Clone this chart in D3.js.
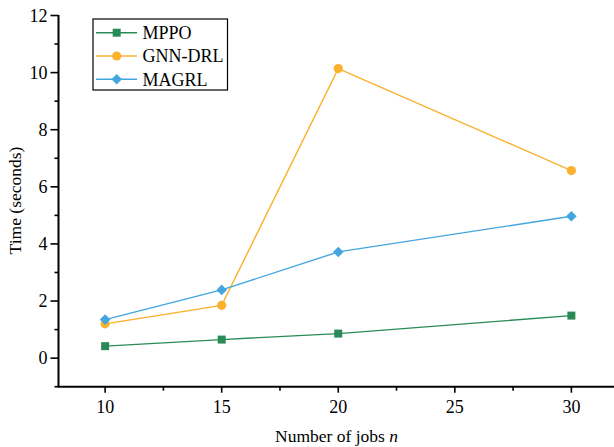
<!DOCTYPE html>
<html>
<head>
<meta charset="utf-8">
<script src="https://cdn.jsdelivr.net/npm/d3@7/dist/d3.min.js"></script>
<style>
  html, body { margin: 0; padding: 0; background: #fff; }
  svg { display: block; }
  text { font-family: "Liberation Serif", "Times New Roman", serif; fill: #000; }
</style>
</head>
<body>
<svg id="chart" width="614" height="447"></svg>
<script>
// Job counts on the x axis
const jobs = [10, 15, 20, 30];

// Solve times (seconds) per method
const mppo   = [0.42, 0.65, 0.86, 1.49];
const gnnDrl = [1.20, 1.85, 10.14, 6.57];
const magrl  = [1.35, 2.39, 3.72, 4.97];

const seriesNames = ["MPPO", "GNN-DRL", "MAGRL"];
const xTicks = [10, 15, 20, 25, 30];
const yTicks = [0, 2, 4, 6, 8, 10, 12];

// A square turned 45 degrees, with equal width and height
const symbolRhombus = {
  draw(ctx, size) {
    const r = Math.sqrt(size / 2);
    ctx.moveTo(0, -r); ctx.lineTo(r, 0); ctx.lineTo(0, r); ctx.lineTo(-r, 0); ctx.closePath();
  }
};

const series = [
  { name: seriesNames[0], values: mppo,   color: "#2a8a57", symbol: d3.symbolSquare, size: 64 },
  { name: seriesNames[1], values: gnnDrl, color: "#f9b12e", symbol: d3.symbolCircle, size: 66 },
  { name: seriesNames[2], values: magrl,  color: "#43a6df", symbol: symbolRhombus,   size: 56 }
];

const svg = d3.select("#chart");
const plotLeft = 58.5, plotRight = 618, plotTop = 15.5, plotBottom = 386.7;

const x = d3.scaleLinear().domain([8, 32]).range([plotLeft, plotRight]);
const y = d3.scaleLinear().domain([-1, 12]).range([plotBottom, plotTop]);

// Minor ticks halfway between the labelled ones
const xMinor = d3.range(12.5, 31, 5);
const yMinor = d3.range(-1, 12, 2);

const axisG = svg.append("g");

// y axis
const yAxis = axisG.append("g").attr("transform", `translate(${plotLeft},0)`);
yAxis.append("line").attr("x1", 0).attr("x2", 0).attr("y1", plotTop - 0.5).attr("y2", plotBottom)
  .attr("stroke", "#000").attr("stroke-width", 2);
yAxis.selectAll(".maj").data(yTicks).join("line")
  .attr("x1", 0).attr("x2", -8).attr("y1", d => y(d)).attr("y2", d => y(d))
  .attr("stroke", "#000").attr("stroke-width", 1.6);
yAxis.selectAll(".min").data(yMinor).join("line")
  .attr("x1", 0).attr("x2", -4).attr("y1", d => y(d)).attr("y2", d => y(d))
  .attr("stroke", "#000").attr("stroke-width", 1.6);
yAxis.selectAll("text").data(yTicks).join("text")
  .attr("x", -11).attr("y", d => y(d)).attr("dy", "0.35em")
  .attr("text-anchor", "end").attr("font-size", 18).text(d => d);

// x axis
const xAxis = axisG.append("g").attr("transform", `translate(0,${plotBottom})`);
xAxis.append("line").attr("x1", plotLeft - 1).attr("x2", plotRight).attr("y1", 0).attr("y2", 0)
  .attr("stroke", "#000").attr("stroke-width", 2);
xAxis.selectAll(".maj").data(xTicks).join("line")
  .attr("x1", d => x(d)).attr("x2", d => x(d)).attr("y1", 0).attr("y2", 6)
  .attr("stroke", "#000").attr("stroke-width", 1.6);
xAxis.selectAll(".min").data(xMinor).join("line")
  .attr("x1", d => x(d)).attr("x2", d => x(d)).attr("y1", 0).attr("y2", 4)
  .attr("stroke", "#000").attr("stroke-width", 1.6);
xAxis.selectAll("text").data(xTicks).join("text")
  .attr("x", d => x(d)).attr("y", 26)
  .attr("text-anchor", "middle").attr("font-size", 18).text(d => d);

// axis titles
svg.append("text")
  .attr("transform", `translate(21,200.5) rotate(-90)`)
  .attr("text-anchor", "middle").attr("font-size", 17.5).text("Time (seconds)");
const xt = svg.append("text")
  .attr("x", 336.5).attr("y", 441.5).attr("text-anchor", "middle").attr("font-size", 17.5);
xt.append("tspan").text("Number of jobs ");
xt.append("tspan").attr("font-style", "italic").text("n");

// lines and markers
const line = d3.line().x((d, i) => x(jobs[i])).y(d => y(d));
series.forEach(s => {
  svg.append("path").datum(s.values)
    .attr("d", line).attr("fill", "none")
    .attr("stroke", s.color).attr("stroke-width", 1.4);
  svg.selectAll(null).data(s.values).join("path")
    .attr("transform", (d, i) => `translate(${x(jobs[i])},${y(d)})`)
    .attr("d", d3.symbol().type(s.symbol).size(s.size))
    .attr("fill", s.color);
});

// legend
const lg = svg.append("g");
lg.append("rect").attr("x", 93).attr("y", 19).attr("width", 134.5).attr("height", 71)
  .attr("fill", "#fff").attr("stroke", "#000").attr("stroke-width", 1.2);
series.forEach((s, i) => {
  const cy = 32.7 + i * 23.3;
  lg.append("line").attr("x1", 96).attr("x2", 137).attr("y1", cy).attr("y2", cy)
    .attr("stroke", s.color).attr("stroke-width", 1.4);
  lg.append("path").attr("transform", `translate(116.7,${cy})`)
    .attr("d", d3.symbol().type(s.symbol).size(s.size)).attr("fill", s.color);
  lg.append("text").attr("x", 142.5).attr("y", cy).attr("dy", "0.35em")
    .attr("font-size", 18).text(s.name);
});
</script>
</body>
</html>
